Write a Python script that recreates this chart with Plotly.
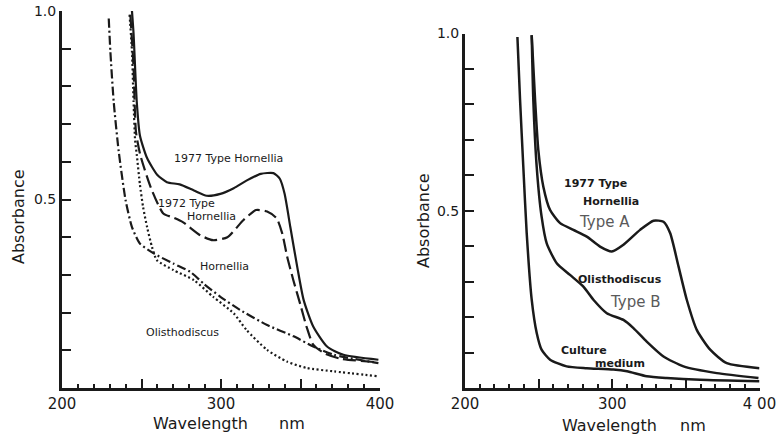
import plotly.graph_objects as go

# ---- Left panel: absorbance spectra (nm, absorbance) ----
h1977_wl = [244, 245, 247, 249, 253.5, 260, 266, 274, 283, 291, 299.6, 308, 316, 325, 333, 337, 340, 343.6, 348, 352, 358, 366.7, 377, 399]
h1977_ab = [1.0, 0.94, 0.76, 0.67, 0.61, 0.565, 0.546, 0.54, 0.524, 0.51, 0.515, 0.53, 0.55, 0.568, 0.57, 0.555, 0.515, 0.427, 0.32, 0.233, 0.163, 0.11, 0.088, 0.075]

h1972_wl = [243, 245, 246.5, 249.3, 256, 263.7, 270, 276, 287, 295, 304, 314, 322, 329, 335, 338.5, 341.7, 345.5, 350, 354, 358, 365, 375, 399]
h1972_ab = [0.99, 0.85, 0.68, 0.617, 0.53, 0.463, 0.452, 0.44, 0.405, 0.392, 0.40, 0.445, 0.472, 0.468, 0.45, 0.41, 0.347, 0.286, 0.22, 0.16, 0.115, 0.092, 0.078, 0.068]

horn_wl = [229.4, 230.4, 232.5, 235.6, 240, 244, 249, 257.7, 270, 280.7, 289, 299.6, 312, 329, 345.7, 358, 371, 399]
horn_ab = [0.98, 0.894, 0.76, 0.63, 0.498, 0.427, 0.383, 0.357, 0.33, 0.308, 0.277, 0.242, 0.207, 0.167, 0.137, 0.11, 0.088, 0.066]

olis_wl = [242.5, 244, 245, 246, 247, 249, 251, 253.5, 256.6, 259.7, 270, 283, 295, 308, 316, 329, 341.5, 354, 371, 399]
olis_ab = [0.99, 0.894, 0.76, 0.656, 0.62, 0.54, 0.48, 0.427, 0.374, 0.339, 0.313, 0.286, 0.242, 0.198, 0.154, 0.101, 0.07, 0.053, 0.044, 0.031]

# ---- Right panel ----
typeA_wl = [245.3, 247.6, 249.8, 253.2, 257.8, 264.6, 273.6, 282.7, 291.7, 299.7, 307.6, 318.9, 328, 334.8, 339.3, 345, 350.6, 357.4, 366.5, 377.8, 400]
typeA_ab = [0.995, 0.812, 0.671, 0.568, 0.502, 0.465, 0.446, 0.427, 0.399, 0.385, 0.404, 0.446, 0.472, 0.469, 0.437, 0.343, 0.249, 0.164, 0.108, 0.07, 0.056]

typeB_wl = [245.3, 246.4, 248.7, 252, 255.5, 262.3, 271.3, 280.4, 287.2, 296.3, 307.6, 314.4, 323.4, 334.8, 348.4, 371, 399.3]
typeB_ab = [0.995, 0.812, 0.624, 0.484, 0.408, 0.352, 0.319, 0.286, 0.249, 0.211, 0.192, 0.169, 0.131, 0.089, 0.061, 0.042, 0.028]

medium_wl = [235.6, 237.4, 239.6, 241.9, 245.3, 248.7, 252, 257.8, 269, 282.7, 300.8, 310, 323.4, 337, 359.7, 400]
medium_ab = [0.99, 0.812, 0.624, 0.437, 0.249, 0.155, 0.108, 0.08, 0.061, 0.056, 0.052, 0.047, 0.033, 0.028, 0.023, 0.019]

x_major = [200, 250, 300, 350, 400]
left_xlabels = ["200", "", "300", "", "400"]
right_xlabels = ["200", "", "300", "", "4 00"]
y_ticks = [0.1, 0.2, 0.3, 0.4, 0.5, 0.6, 0.7, 0.8, 0.9, 1.0]
y_labels = ["", "", "", "", "0.5", "", "", "", "", "1.0"]

W, H = 780, 437
INK = "#1a1a1a"
FONT = "DejaVu Sans"

fig = go.Figure()

def curve(x, y, xa, ya, dash="solid", width=2.2):
    fig.add_trace(go.Scatter(
        x=x, y=y, xaxis=xa, yaxis=ya, mode="lines",
        line=dict(color=INK, width=width, dash=dash, shape="spline", smoothing=0.6),
        showlegend=False, hoverinfo="skip"))

curve(h1977_wl, h1977_ab, "x", "y")
curve(h1972_wl, h1972_ab, "x", "y", dash="13px,5px")
curve(horn_wl, horn_ab, "x", "y", dash="9px,3px,2px,3px")
curve(olis_wl, olis_ab, "x", "y", dash="2px,2.5px")

curve(typeA_wl, typeA_ab, "x2", "y2", width=2.5)
curve(typeB_wl, typeB_ab, "x2", "y2", width=2.5)
curve(medium_wl, medium_ab, "x2", "y2", width=2.5)

def xaxis_cfg(domain, labels):
    return dict(
        domain=domain, range=[200, 400], showgrid=False, zeroline=False,
        showline=True, linecolor=INK, linewidth=3, automargin=False,
        tickmode="array", tickvals=x_major, ticktext=labels,
        ticks="inside", ticklen=9, tickwidth=2, tickcolor=INK,
        minor=dict(dtick=10, tick0=200, ticks="inside", ticklen=4, tickwidth=1.5, tickcolor=INK),
        tickfont=dict(family=FONT, size=15, color=INK),
    )

def yaxis_cfg(domain, anchor):
    return dict(
        domain=domain, range=[0, 1.0], anchor=anchor, showgrid=False, zeroline=False,
        showline=True, linecolor=INK, linewidth=3, automargin=False,
        tickmode="array", tickvals=y_ticks, ticktext=y_labels,
        ticks="inside", ticklen=9, tickwidth=2, tickcolor=INK,
        tickfont=dict(family=FONT, size=14, color=INK),
    )

fig.update_layout(
    width=W, height=H, margin=dict(l=0, r=0, t=0, b=0, autoexpand=False),
    paper_bgcolor="white", plot_bgcolor="white",
    xaxis=dict(**xaxis_cfg([62 / W, 380 / W], left_xlabels), anchor="y"),
    yaxis=yaxis_cfg([1 - 388 / H, 1 - 11 / H], "x"),
    xaxis2=dict(**xaxis_cfg([465 / W, 759.5 / W], right_xlabels), anchor="y2"),
    yaxis2=yaxis_cfg([1 - 388 / H, 1 - 33.5 / H], "x2"),
)

def label(text, x, y, xref, yref, size=11, color=INK, bold=False):
    fig.add_annotation(
        text=f"<b>{text}</b>" if bold else text, x=x, y=y, xref=xref, yref=yref,
        showarrow=False, xanchor="center", yanchor="middle",
        font=dict(family=FONT, size=size, color=color))

# curve labels, left panel
label("1977 Type Hornellia", 304.4, 0.61, "x", "y")
label("1972 Type", 278.6, 0.49, "x", "y")
label("Hornellia", 294.3, 0.454, "x", "y")
label("Hornellia", 302.5, 0.321, "x", "y")
label("Olisthodiscus", 276, 0.146, "x", "y")

# curve labels, right panel
label("1977 Type", 288.3, 0.578, "x2", "y2", bold=True)
label("Hornellia", 299.2, 0.525, "x2", "y2", bold=True)
label("Type A", 295, 0.468, "x2", "y2", size=15, color="#5a5a5a")
label("Olisthodiscus", 305.3, 0.307, "x2", "y2", bold=True)
label("Type B", 316, 0.243, "x2", "y2", size=15, color="#5a5a5a")
label("Culture", 280.8, 0.107, "x2", "y2", bold=True)
label("medium", 305.3, 0.07, "x2", "y2", bold=True)

# axis titles
def title(text, px, py, angle=0):
    fig.add_annotation(
        text=text, x=px / W, y=1 - py / H, xref="paper", yref="paper",
        showarrow=False, xanchor="center", yanchor="middle", textangle=angle,
        font=dict(family=FONT, size=16, color=INK))

title("Absorbance", 18, 217, -90)
title("Wavelength", 201, 423)
title("nm", 292, 423)
title("Absorbance", 423, 220, -90)
title("Wavelength", 609, 425)
title("nm", 693, 425)

fig.write_html("out.html")
